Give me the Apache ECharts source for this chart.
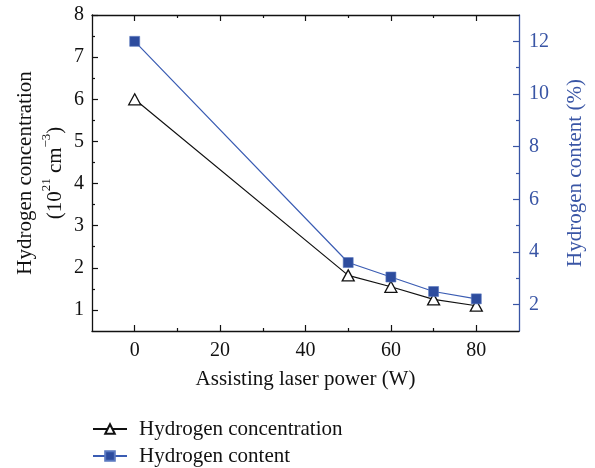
<!DOCTYPE html>
<html>
<head>
<meta charset="utf-8">
<script src="https://cdn.jsdelivr.net/npm/echarts@6/dist/echarts.min.js"></script>
<style>html,body{margin:0;padding:0;background:#fff;}#c{width:595px;height:468px;}</style>
</head>
<body>
<div id="c"></div>
<script>
// Data
var power = [0, 50, 60, 70, 80];
var concentration = [6.0, 1.82, 1.55, 1.25, 1.1];
var content = [12.0, 3.6, 3.05, 2.5, 2.22];
// Tick labels
var xTicks = [0, 20, 40, 60, 80];
var xMinor = [10, 30, 50, 70];
var yLeftTicks = [1, 2, 3, 4, 5, 6, 7, 8];
var yLeftMinor = [1.5, 2.5, 3.5, 4.5, 5.5, 6.5, 7.5];
var yRightTicks = [2, 4, 6, 8, 10, 12];
var yRightMinor = [3, 5, 7, 9, 11];

var FONT = '"Liberation Serif", "DejaVu Serif", serif';
var BLACK = '#111';
var BLUE = '#3955a5';
var TICK_FS = 20;
var NAME_FS = 21;

function xAx(pos, ticks, len, show, extra) {
  var a = {
    type: 'value', position: pos, min: -10, max: 90,
    axisLine: {show: show.line, onZero: false, lineStyle: {color: BLACK, width: 1.3}},
    axisTick: {show: true, inside: true, length: len, customValues: ticks, lineStyle: {color: BLACK, width: 1.2}},
    axisLabel: {show: false},
    splitLine: {show: false}
  };
  return Object.assign(a, extra || {});
}
function yAx(pos, min, max, ticks, len, color, line, extra) {
  var a = {
    type: 'value', position: pos, min: min, max: max,
    axisLine: {show: line, onZero: false, lineStyle: {color: color, width: 1.3}},
    axisTick: {show: true, inside: true, length: len, customValues: ticks, lineStyle: {color: color, width: 1.2}},
    axisLabel: {show: false},
    splitLine: {show: false}
  };
  return Object.assign(a, extra || {});
}

var chart = echarts.init(document.getElementById('c'), null, {renderer: 'canvas'});
chart.setOption({
  animation: false,
  backgroundColor: '#fff',
  grid: {left: 92, right: 76, top: 15, bottom: 137, containLabel: false, outerBoundsMode: 'none'},
  xAxis: [
    xAx('bottom', xTicks, 6, {line: true}, {
      name: 'Assisting laser power (W)', nameLocation: 'middle', nameGap: 38,
      nameTextStyle: {fontFamily: FONT, fontSize: NAME_FS, color: BLACK},
      axisLabel: {show: true, customValues: xTicks, margin: 10, fontFamily: FONT, fontSize: TICK_FS, color: BLACK}
    }),
    xAx('top', xTicks, 6, {line: true}),
    xAx('bottom', xMinor, 3, {line: false}),
    xAx('top', xMinor, 3, {line: false})
  ],
  yAxis: [
    yAx('left', 0.5, 8, yLeftTicks, 6, BLACK, true, {
      name: 'Hydrogen concentration\n(10{sup|21} cm{sup|\u22123})', nameLocation: 'middle', nameGap: 22, nameRotate: 90,
      nameMoveOverlap: false,
      nameTextStyle: {fontFamily: FONT, fontSize: NAME_FS, color: BLACK, lineHeight: 30,
        rich: {sup: {fontFamily: FONT, fontSize: 13, color: BLACK, verticalAlign: 'top', lineHeight: 30}}},
      axisLabel: {show: true, customValues: yLeftTicks, margin: 8, fontFamily: FONT, fontSize: TICK_FS, color: BLACK}
    }),
    yAx('right', 1, 13, yRightTicks, 6, BLUE, true, {
      name: 'Hydrogen content (%)', nameLocation: 'middle', nameGap: 46, nameRotate: 90,
      nameTextStyle: {fontFamily: FONT, fontSize: NAME_FS, color: BLUE},
      axisLabel: {show: true, customValues: yRightTicks, margin: 10, fontFamily: FONT, fontSize: TICK_FS, color: BLUE}
    }),
    yAx('left', 0.5, 8, yLeftMinor, 3, BLACK, false),
    yAx('right', 1, 13, yRightMinor, 3, BLUE, false)
  ],
  legend: {
    orient: 'vertical', left: 92, top: 417, padding: 0, itemWidth: 34, itemHeight: 12, itemGap: 3,
    textStyle: {fontFamily: FONT, fontSize: NAME_FS, color: BLACK, lineHeight: 24, padding: [0, 0, 0, 7]},
    data: ['Hydrogen concentration', 'Hydrogen content']
  },
  series: [
    {
      name: 'Hydrogen concentration', type: 'line', xAxisIndex: 0, yAxisIndex: 0,
      data: power.map(function (p, i) { return [p, concentration[i]]; }),
      symbol: 'triangle', symbolSize: [12, 11], showAllSymbol: true,
      lineStyle: {color: BLACK, width: 1.2},
      itemStyle: {color: '#fff', borderColor: BLACK, borderWidth: 1.3},
      z: 2
    },
    {
      name: 'Hydrogen content', type: 'line', xAxisIndex: 0, yAxisIndex: 1,
      data: power.map(function (p, i) { return [p, content[i]]; }),
      symbol: 'rect', symbolSize: 10, showAllSymbol: true,
      lineStyle: {color: '#3a5cb3', width: 1.2},
      itemStyle: {color: '#2d4c9e', borderColor: '#5a78c0', borderWidth: 0.6},
      z: 3
    }
  ]
});
</script>
</body>
</html>
